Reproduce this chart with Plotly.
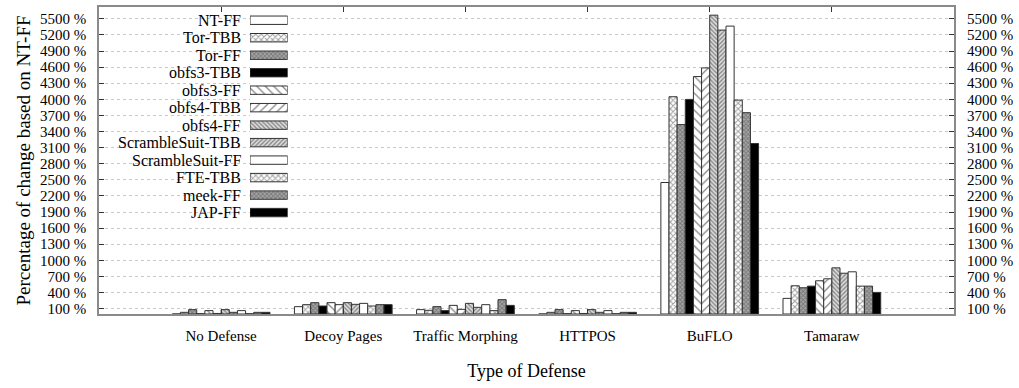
import plotly.graph_objects as go

# Defense categories on the x axis
categories = ["No Defense", "Decoy Pages", "Traffic Morphing", "HTTPOS", "BuFLO", "Tamaraw"]

# Percentage of change relative to NT-FF, one list per configuration
nt_ff = [0, 137, 81, 0, 2450, 291]
tor_tbb = [31, 174, 69, 31, 4048, 526]
tor_ff = [81, 211, 137, 81, 3529, 489]
obfs3_tbb = [5, 149, 63, 5, 3998, 519]
obfs3_ff = [63, 211, 161, 63, 4424, 619]
obfs4_tbb = [10, 174, 87, 10, 4585, 656]
obfs4_ff = [81, 211, 198, 81, 5568, 860]
ss_tbb = [31, 180, 124, 31, 5290, 760]
ss_ff = [63, 198, 174, 63, 5364, 786]
fte_tbb = [5, 149, 63, 5, 3985, 519]
meek_ff = [31, 174, 267, 31, 3751, 519]
jap_ff = [31, 174, 161, 31, 3177, 402]

series_names = ["NT-FF", "Tor-TBB", "Tor-FF", "obfs3-TBB", "obfs3-FF", "obfs4-TBB",
                "obfs4-FF", "ScrambleSuit-TBB", "ScrambleSuit-FF", "FTE-TBB", "meek-FF", "JAP-FF"]
series_values = [nt_ff, tor_tbb, tor_ff, obfs3_tbb, obfs3_ff, obfs4_tbb,
                 obfs4_ff, ss_tbb, ss_ff, fte_tbb, meek_ff, jap_ff]

# Tick values for the percentage axis
y_ticks = list(range(100, 5501, 300))
y_ticktext = [f"{v} %" for v in y_ticks]

FONT = "Liberation Serif"
EDGE = "#333333"

WHITE = dict(color="white")
CHECK_LIGHT = dict(color="white", pattern=dict(shape="x", size=4, solidity=0.45,
                                               fgcolor="#444444", bgcolor="white"))
CHECK_DARK = dict(color="#9a9a9a", pattern=dict(shape="x", size=3, solidity=0.5,
                                                fgcolor="#444444", bgcolor="#a8a8a8"))
BLACK = dict(color="black")
BACK_SPARSE = dict(color="white", pattern=dict(shape="\\", size=6, solidity=0.2,
                                               fgcolor="black", bgcolor="white"))
FWD_SPARSE = dict(color="white", pattern=dict(shape="/", size=6, solidity=0.2,
                                              fgcolor="black", bgcolor="white"))
BACK_DENSE = dict(color="#bbbbbb", pattern=dict(shape="\\", size=3, solidity=0.45,
                                                fgcolor="#333333", bgcolor="#dddddd"))
FWD_DENSE = dict(color="#bbbbbb", pattern=dict(shape="/", size=3, solidity=0.45,
                                               fgcolor="#333333", bgcolor="#dddddd"))

styles = [WHITE, CHECK_LIGHT, CHECK_DARK, BLACK, BACK_SPARSE, FWD_SPARSE,
          BACK_DENSE, FWD_DENSE, WHITE, CHECK_LIGHT, CHECK_DARK, BLACK]

fig = go.Figure()
x_idx = list(range(len(categories)))
for name, vals, st in zip(series_names, series_values, styles):
    marker = dict(st)
    marker["line"] = dict(color=EDGE, width=1)
    fig.add_trace(go.Bar(x=x_idx, y=vals, name=name, marker=marker,
                         showlegend=False, xaxis="x", yaxis="y"))

# Invisible trace so the right-hand percentage axis is rendered
fig.add_trace(go.Scatter(x=[0], y=[0], yaxis="y2", mode="markers",
                         marker=dict(opacity=0), showlegend=False, hoverinfo="skip"))

# Key drawn as small horizontal bars on their own axes, labels to the left
n = len(series_names)
for i, (name, st) in enumerate(zip(series_names, styles)):
    marker = dict(st)
    marker["line"] = dict(color=EDGE, width=1)
    fig.add_trace(go.Bar(x=[1], y=[i], orientation="h", width=0.48, marker=marker,
                         showlegend=False, xaxis="x3", yaxis="y3", hoverinfo="skip"))
    fig.add_annotation(x=0.1684, xref="paper", y=i, yref="y3", text=name,
                       showarrow=False, xanchor="right", yanchor="middle",
                       font=dict(family=FONT, size=16, color="black"))

axis_col = "#8a8a8a"
fig.update_layout(
    width=1019, height=388,
    margin=dict(l=99, r=65, t=5, b=74),
    paper_bgcolor="white", plot_bgcolor="white",
    barmode="group", bargap=0.2, bargroupgap=0,
    font=dict(family=FONT, size=15, color="black"),
    xaxis=dict(range=[-1, 6], tickvals=x_idx, ticktext=categories,
               ticks="inside", ticklen=5, tickcolor="#333333",
               showline=True, linecolor=axis_col, linewidth=1.5, mirror="ticks",
               showgrid=False, zeroline=False, ticklabelstandoff=7,
               tickfont=dict(family=FONT, size=15),
               title=dict(text="Type of Defense", font=dict(family=FONT, size=18),
                          standoff=22)),
    yaxis=dict(range=[0, 5720], tickvals=y_ticks, ticktext=y_ticktext,
               ticks="inside", ticklen=5, tickcolor="#333333",
               showline=True, linecolor=axis_col, linewidth=1.5, mirror="ticks",
               showgrid=True, gridcolor="#c8c8c8", griddash="dot", gridwidth=1,
               zeroline=False, ticklabelstandoff=8,
               tickfont=dict(family=FONT, size=15),
               title=dict(text="Percentage of change based on NT-FF",
                          font=dict(family=FONT, size=19), standoff=4)),
    yaxis2=dict(range=[0, 5720], tickvals=y_ticks, ticktext=y_ticktext,
                overlaying="y", side="right", showgrid=False, zeroline=False,
                ticks="", showline=False, ticklabelstandoff=12,
                tickfont=dict(family=FONT, size=15)),
    xaxis3=dict(domain=[0.1766, 0.2207], range=[0, 1], anchor="y3",
                visible=False, fixedrange=True),
    yaxis3=dict(domain=[0.3019, 0.9854], range=[n - 0.5, -0.5], anchor="x3",
                visible=False, fixedrange=True),
)

# White backdrop behind the key
fig.add_shape(type="rect", xref="paper", yref="paper", x0=0.003, x1=0.225,
              y0=0.30, y1=0.99, fillcolor="white", line=dict(width=0), layer="below")

fig.write_html("out.html")
